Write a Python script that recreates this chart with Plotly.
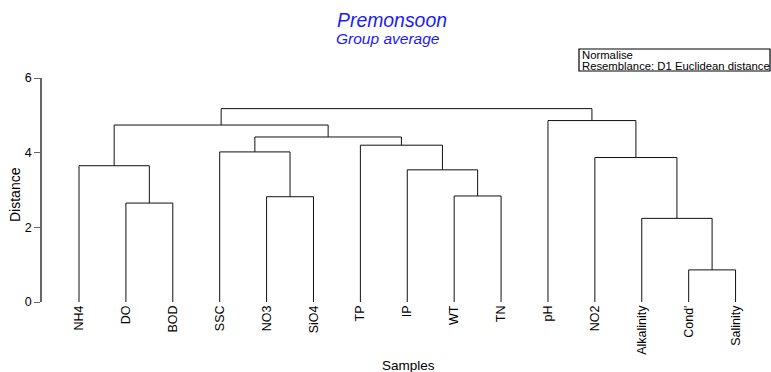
import plotly.graph_objects as go

# ---- data ----
leaves = ["NH4", "DO", "BOD", "SSC", "NO3", "SiO4", "TP", "IP", "WT", "TN",
          "pH", "NO2", "Alkalinity", "Cond'", "Salinity"]
# merges: (left member, right member, height); members are leaf indices (int)
# or earlier merge ids ("m<k>")
merge_left = [1, 0, 4, 3, 8, 7, 6, "m3", "m1", 13, 12, 11, 10, "m8"]
merge_right = [2, "m0", 5, "m2", 9, "m4", "m5", "m6", "m7", 14, "m9", "m10", "m11", "m12"]
merge_height = [2.65, 3.65, 2.82, 4.02, 2.84, 3.54, 4.20, 4.42, 4.74, 0.86, 2.24, 3.87, 4.86, 5.18]
y_ticks = [0, 2, 4, 6]

W, H = 771, 372
L, R, T, B = 42, 12, 78, 70
pw, ph = W - L - R, H - T - B


def px_x(x):
    return (x - L) / pw


def px_y(y):
    return (H - B - y) / ph


pos = {}
hgt = {}


def node(m):
    if isinstance(m, str):
        return pos[m], hgt[m]
    return float(m), 0.0


xs, ys = [], []
for k, (a, b, h) in enumerate(zip(merge_left, merge_right, merge_height)):
    xa, ha = node(a)
    xb, hb = node(b)
    xs += [xa, xa, xb, xb, None]
    ys += [ha, h, h, hb, None]
    pos["m%d" % k] = (xa + xb) / 2
    hgt["m%d" % k] = h

font_family = "Arial, Liberation Sans, sans-serif"

fig = go.Figure()
fig.add_trace(go.Scatter(x=xs, y=ys, mode="lines",
                         line=dict(color="#111111", width=1),
                         hoverinfo="skip", showlegend=False))

fig.update_layout(
    width=W, height=H,
    margin=dict(l=L, r=R, t=T, b=B, pad=0),
    plot_bgcolor="white", paper_bgcolor="white",
    font=dict(family=font_family, size=12, color="#000000"),
    xaxis=dict(range=[-0.789, 14.5], tickvals=list(range(len(leaves))),
               ticktext=leaves, tickangle=-90, ticks="", showline=False,
               showgrid=False, zeroline=False,
               tickfont=dict(size=12.5, family=font_family)),
    yaxis=dict(range=[0, 6], tickvals=y_ticks, ticks="outside", ticklen=6,
               tickcolor="#666666", tickwidth=1.2, showline=True,
               linecolor="#666666", linewidth=1.5, showgrid=False,
               zeroline=False, tickfont=dict(size=12.5, family=font_family)),
    showlegend=False,
)

box_lines = ["Normalise", "Resemblance: D1 Euclidean distance"]

annotations = [
    dict(text="Premonsoon", x=px_x(392), y=px_y(20), xref="paper", yref="paper",
         xanchor="center", yanchor="middle", showarrow=False,
         font=dict(size=19.4, color="#1a1aff", family=font_family, style="italic")),
    dict(text="Group average", x=px_x(388), y=px_y(38.5), xref="paper", yref="paper",
         xanchor="center", yanchor="middle", showarrow=False,
         font=dict(size=15.5, color="#1a1aff", family=font_family, style="italic")),
    dict(text=box_lines[0], x=px_x(579.5), y=px_y(55.5), xref="paper", yref="paper",
         xanchor="left", yanchor="middle", showarrow=False,
         font=dict(size=11.3, color="#000000", family=font_family)),
    dict(text=box_lines[1], x=px_x(579.5), y=px_y(66), xref="paper", yref="paper",
         xanchor="left", yanchor="middle", showarrow=False,
         font=dict(size=11.3, color="#000000", family=font_family)),
    dict(text="Distance", x=px_x(15), y=px_y(195), xref="paper", yref="paper",
         xanchor="center", yanchor="middle", textangle=-90, showarrow=False,
         font=dict(size=14, color="#000000", family=font_family)),
    dict(text="Samples", x=px_x(408), y=px_y(365), xref="paper", yref="paper",
         xanchor="center", yanchor="middle", showarrow=False,
         font=dict(size=13.5, color="#000000", family=font_family)),
]
fig.update_layout(annotations=annotations)

fig.add_shape(type="rect", xref="paper", yref="paper",
              x0=px_x(579), x1=px_x(770), y0=px_y(71), y1=px_y(49),
              line=dict(color="#000000", width=1.2), fillcolor="rgba(0,0,0,0)")

fig.write_html("out.html",
               config={"displayModeBar": False},
               post_script="document.body.style.margin='0';document.body.style.padding='0';")
